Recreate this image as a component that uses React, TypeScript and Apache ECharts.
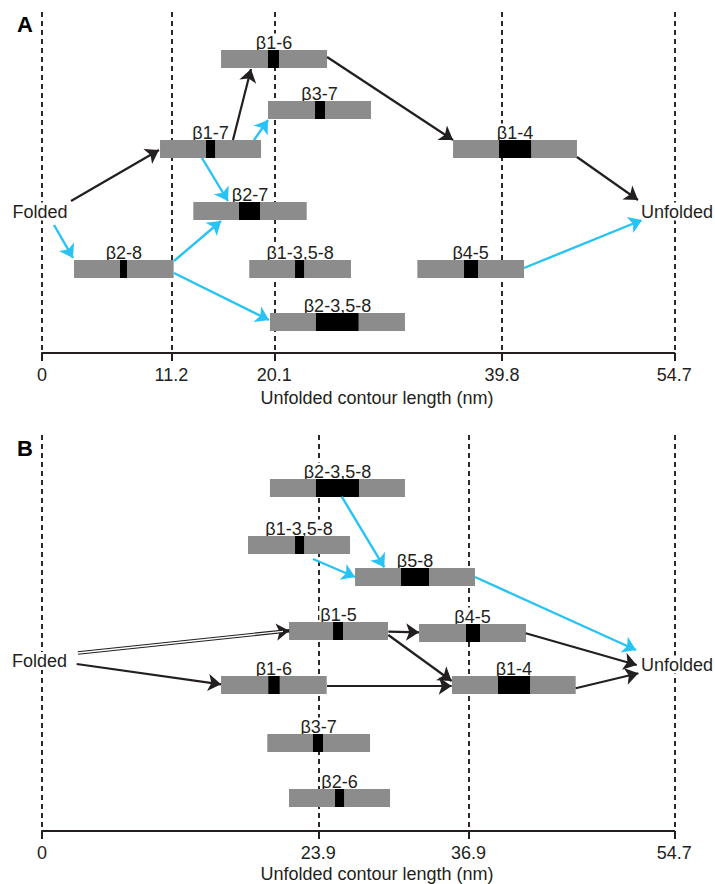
import React, { useEffect, useRef } from "react";
import * as echarts from "echarts";

const DARK = "#231f20";
const GRAY = "#8c8c8c";
const CYAN = "#27c3f3";
const FONT = "'Liberation Sans', Arial, Helvetica, sans-serif";
const FS = 18;

const X_MAX = 54.7;
const ticksA = [0, 11.2, 20.1, 39.8, 54.7];
const ticksB = [0, 23.9, 36.9, 54.7];
const axisTitle = "Unfolded contour length (nm)";

// Panel A bars: name, start, core start, core end, end (nm), row
const barNamesA = ["β1-6", "β3-7", "β1-7", "β1-4", "β2-7", "β2-8", "β1-3,5-8", "β4-5", "β2-3,5-8"];
const barStartA = [15.49, 19.55, 10.21, 35.56, 13.09, 2.77, 17.93, 32.47, 19.72];
const coreStartA = [19.55, 23.62, 14.19, 39.54, 17.04, 6.75, 21.89, 36.51, 23.7];
const coreEndA = [20.5, 24.48, 14.97, 42.31, 18.86, 7.35, 22.67, 37.72, 27.38];
const barEndA = [24.66, 28.46, 18.95, 46.28, 22.9, 11.39, 26.73, 41.7, 31.4];
const barRowA = [4.7, 9.8, 13.7, 13.7, 19.9, 25.7, 25.7, 25.7, 31.0];

// Panel B bars
const barNamesB = ["β2-3,5-8", "β1-3,5-8", "β5-8", "β1-5", "β4-5", "β1-6", "β1-4", "β3-7", "β2-6"];
const barStartB = [19.72, 17.82, 27.08, 21.37, 32.62, 15.49, 35.47, 19.49, 21.37];
const coreStartB = [23.7, 21.89, 31.06, 25.18, 36.68, 19.58, 39.45, 23.44, 25.35];
const coreEndB = [27.42, 22.67, 33.48, 26.04, 37.89, 20.56, 42.22, 24.31, 26.13];
const barEndB = [31.4, 26.65, 37.46, 29.93, 41.87, 24.63, 46.17, 28.38, 30.11];
const barRowB = [5.3, 11.0, 14.2, 19.6, 19.8, 25.0, 25.0, 30.8, 36.3];

// States
const stateNames = ["Folded", "Unfolded"];
const stateXA = [-0.17, 54.94];
const stateRowA = [19.95, 19.95];
const stateXB = [-0.22, 54.94];
const stateRowB = [22.6, 22.95];

// Arrows [x1, row1, x2, row2]
const arrowsBlackA = [
  [2.51, 18.9, 10.12, 13.8],
  [16.52, 12.8, 18.08, 5.7],
  [24.66, 4.5, 35.56, 12.8],
  [46.28, 14.5, 51.56, 18.8],
];
const arrowsCyanA = [
  [18.34, 12.8, 19.55, 10.8],
  [13.84, 14.6, 16.09, 18.9],
  [1.04, 21.3, 2.68, 24.6],
  [11.42, 24.9, 15.49, 20.9],
  [11.42, 26.1, 19.64, 30.8],
  [41.7, 25.6, 51.91, 20.8],
];
const arrowsCyanB = [
  [25.93, 6.17, 29.61, 13.23],
  [23.44, 12.4, 27.08, 14.2],
  [37.46, 14.2, 51.39, 21.5],
];
const arrowsBlackB = [
  [29.96, 19.67, 32.62, 19.73],
  [29.96, 20.0, 35.44, 24.6],
  [41.85, 19.83, 51.45, 23.0],
  [3.0, 22.9, 15.49, 24.93],
  [24.66, 25.1, 35.44, 25.1],
  [46.17, 25.33, 51.59, 23.83],
];
const arrowsDoubleB = [[3.11, 21.8, 21.39, 19.57]];

const BAR_H = 1.8;

function barSeries(idx: number, names: string[], s: number[], cs: number[], ce: number[], e: number[], r: number[]) {
  return {
    type: "custom",
    xAxisIndex: idx,
    yAxisIndex: idx,
    z: 3,
    clip: false,
    data: names.map((n, i) => ({ name: n, value: [s[i], cs[i], ce[i], e[i], r[i]] })),
    renderItem: (params: any, api: any) => {
      const y = api.value(4);
      const p0 = api.coord([api.value(0), y]);
      const p1 = api.coord([api.value(3), y]);
      const c0 = api.coord([api.value(1), y]);
      const c1 = api.coord([api.value(2), y]);
      const h = Math.abs(api.size([0, BAR_H])[1]);
      const top = p0[1] - h / 2;
      return {
        type: "group",
        children: [
          {
            type: "text",
            x: (p0[0] + p1[0]) / 2,
            y: top - 7.5,
            style: {
              text: names[params.dataIndex],
              align: "center",
              verticalAlign: "middle",
              fontSize: FS,
              fontFamily: FONT,
              fill: DARK,
              backgroundColor: "#ffffff",
              padding: [0, 1, 0, 1],
            },
          },
          { type: "rect", shape: { x: p0[0], y: top, width: p1[0] - p0[0], height: h }, style: { fill: GRAY } },
          { type: "rect", shape: { x: c0[0], y: top, width: c1[0] - c0[0], height: h }, style: { fill: "#000" } },
        ],
      };
    },
    markLine: {
      silent: true,
      z: 1,
      symbol: "none",
      label: { show: false },
      lineStyle: { type: [5, 4], color: DARK, width: 1.9 },
      data: (idx === 0 ? ticksA : ticksB).map((v) => ({ xAxis: v })),
    },
  };
}

function stateSeries(idx: number, xs: number[], rows: number[]) {
  return {
    type: "custom",
    xAxisIndex: idx,
    yAxisIndex: idx,
    z: 5,
    clip: false,
    data: stateNames.map((n, i) => ({ name: n, value: [xs[i], rows[i]] })),
    renderItem: (params: any, api: any) => {
      const p = api.coord([api.value(0), api.value(1)]);
      return {
        type: "text",
        x: p[0],
        y: p[1],
        style: {
          text: stateNames[params.dataIndex],
          align: "center",
          verticalAlign: "middle",
          fontSize: FS,
          fontFamily: FONT,
          fill: DARK,
          backgroundColor: "#ffffff",
        },
      };
    },
  };
}

function arrowSeries(idx: number, arr: number[][], color: string, width: number, arrow = true, z = 4) {
  return {
    type: "lines",
    coordinateSystem: "cartesian2d",
    xAxisIndex: idx,
    yAxisIndex: idx,
    z,
    silent: true,
    symbol: arrow ? ["none", "arrow"] : ["none", "none"],
    symbolSize: 13,
    lineStyle: { color, width, opacity: 1, curveness: 0 },
    data: arr.map((a) => ({ coords: [[a[0], a[1]], [a[2], a[3]]] })),
  };
}

function xAxisFor(idx: number, ticks: number[]) {
  return {
    type: "value",
    gridIndex: idx,
    min: 0,
    max: X_MAX,
    axisLine: { show: true, onZero: false, lineStyle: { color: DARK, width: 2.2 } },
    axisTick: { show: true, customValues: ticks, length: 8, lineStyle: { color: DARK, width: 2 } },
    axisLabel: { show: true, customValues: ticks, margin: 13, fontSize: FS, fontFamily: FONT, color: DARK, formatter: (v: number) => String(v) },
    splitLine: { show: false },
  };
}

export default function App() {
  const ref = useRef<HTMLDivElement>(null);
  useEffect(() => {
    if (!ref.current) return;
    const chart = echarts.init(ref.current, null, { renderer: "svg" });
    // white core of the double line, stopped short so the arrowhead stays solid
    const dbl = arrowsDoubleB.map((a) => {
      const f = 0.97;
      return [a[0], a[1], a[0] + (a[2] - a[0]) * f, a[1] + (a[3] - a[1]) * f];
    });
    chart.setOption({
      animation: false,
      backgroundColor: "#fff",
      grid: [
        { left: 42, right: 40.7, top: 12, height: 341 },
        { left: 42, right: 40.7, top: 435, height: 396 },
      ],
      xAxis: [xAxisFor(0, ticksA), xAxisFor(1, ticksB)],
      yAxis: [
        { type: "value", gridIndex: 0, min: 0, max: 34.1, inverse: true, show: false },
        { type: "value", gridIndex: 1, min: 0, max: 39.6, inverse: true, show: false },
      ],
      graphic: [
        { type: "text", x: 17, y: 24, style: { text: "A", fontSize: 22, fontWeight: "bold", fontFamily: FONT, fill: "#000", verticalAlign: "middle" } },
        { type: "text", x: 17, y: 448, style: { text: "B", fontSize: 22, fontWeight: "bold", fontFamily: FONT, fill: "#000", verticalAlign: "middle" } },
        { type: "text", x: 377, y: 397.5, style: { text: axisTitle, fontSize: FS, fontFamily: FONT, fill: DARK, align: "center", verticalAlign: "middle" } },
        { type: "text", x: 377, y: 874, style: { text: axisTitle, fontSize: FS, fontFamily: FONT, fill: DARK, align: "center", verticalAlign: "middle" } },
      ],
      series: [
        barSeries(0, barNamesA, barStartA, coreStartA, coreEndA, barEndA, barRowA),
        barSeries(1, barNamesB, barStartB, coreStartB, coreEndB, barEndB, barRowB),
        stateSeries(0, stateXA, stateRowA),
        stateSeries(1, stateXB, stateRowB),
        arrowSeries(0, arrowsBlackA, DARK, 2.2),
        arrowSeries(0, arrowsCyanA, CYAN, 2.4),
        arrowSeries(1, arrowsCyanB, CYAN, 2.4),
        arrowSeries(1, arrowsBlackB, DARK, 2.2),
        arrowSeries(1, arrowsDoubleB, DARK, 3.6, true, 4),
        arrowSeries(1, dbl, "#ffffff", 1.4, false, 5),
      ],
    });
    return () => chart.dispose();
  }, []);
  return <div ref={ref} style={{ position: "absolute", left: 0, top: 0, width: 715, height: 884 }} />;
}
